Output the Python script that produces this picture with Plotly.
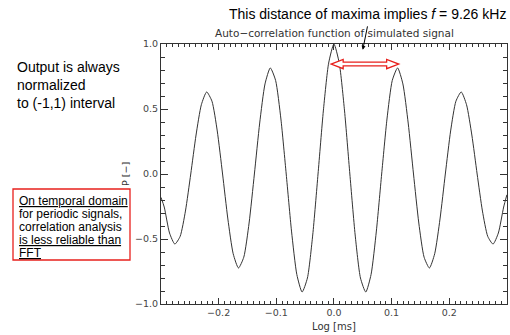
import plotly.graph_objects as go

# ---- data ----
lag_ms = [-0.3, -0.2944, -0.2852, -0.276, -0.2668, -0.2576, -0.2484, -0.2392, -0.23, -0.2208,
          -0.2116, -0.2024, -0.1932, -0.184, -0.1748, -0.1656, -0.1564, -0.1472, -0.138, -0.1288,
          -0.1196, -0.1104, -0.1012, -0.092, -0.0828, -0.0736, -0.0644, -0.0552, -0.046, -0.0368,
          -0.0276, -0.0184, -0.0092, 0.0, 0.0092, 0.0184, 0.0276, 0.0368, 0.046, 0.0552,
          0.0644, 0.0736, 0.0828, 0.092, 0.1012, 0.1104, 0.1196, 0.1288, 0.138, 0.1472,
          0.1564, 0.1656, 0.1748, 0.184, 0.1932, 0.2024, 0.2116, 0.2208, 0.23, 0.2392,
          0.2484, 0.2576, 0.2668, 0.276, 0.2852, 0.2944, 0.3]
acf = [-0.18, -0.254, -0.454, -0.539, -0.480, -0.285, 0.000, 0.300, 0.533, 0.631,
       0.560, 0.331, 0.000, -0.346, -0.613, -0.723, -0.640, -0.377, 0.000, 0.392,
       0.693, 0.816, 0.720, 0.423, 0.000, -0.439, -0.773, -0.908, -0.800, -0.469,
       0.000, 0.485, 0.853, 1.000, 0.853, 0.485, 0.000, -0.469, -0.800, -0.908,
       -0.773, -0.439, 0.000, 0.423, 0.720, 0.816, 0.693, 0.392, 0.000, -0.377,
       -0.640, -0.723, -0.613, -0.346, 0.000, 0.331, 0.560, 0.631, 0.533, 0.300,
       0.000, -0.285, -0.480, -0.539, -0.454, -0.254, -0.16]
x_ticks = [-0.2, -0.1, 0.0, 0.1, 0.2, 0.3]
x_ticklabels = ["\u22120.2", "\u22120.1", "0.0", "0.1", "0.2", "0.3"]
y_ticks = [-1.0, -0.5, 0.0, 0.5, 1.0]
y_ticklabels = ["\u22121.0", "\u22120.5", "0.0", "0.5", "1.0"]

W, H = 510, 335
L, R, T, B = 161, 3, 44, 31
pw, ph = W - L - R, H - T - B

def px(xp):
    return (xp - L) / pw

def py(yp):
    return (H - B - yp) / ph

axcol = "#333333"
tickfont = dict(family="DejaVu Sans", size=9.5, color="#444444")

fig = go.Figure()
fig.add_trace(go.Scatter(x=lag_ms, y=acf, mode="lines",
                         line=dict(color="#333333", width=1, shape="spline", smoothing=0.6),
                         hoverinfo="skip", showlegend=False))

fig.update_layout(
    width=W, height=H, margin=dict(l=L, r=R, t=T, b=B),
    paper_bgcolor="white", plot_bgcolor="white", showlegend=False,
    xaxis=dict(range=[-0.3, 0.3002], tickvals=x_ticks, ticktext=x_ticklabels,
               ticks="inside", ticklen=6, tickwidth=1, tickcolor=axcol,
               showline=True, linecolor=axcol, linewidth=1, mirror="ticks",
               showgrid=False, zeroline=False, tickfont=tickfont,
               minor=dict(dtick=0.01, tick0=0, ticks="inside", ticklen=3,
                          tickcolor=axcol, showgrid=False)),
    yaxis=dict(range=[-1.0, 1.0], tickvals=y_ticks, ticktext=y_ticklabels,
               ticks="inside", ticklen=7, tickwidth=1, tickcolor=axcol,
               showline=True, linecolor=axcol, linewidth=1, mirror="ticks",
               showgrid=False, zeroline=False, tickfont=tickfont,
               minor=dict(dtick=0.1, tick0=0, ticks="inside", ticklen=4,
                          tickcolor=axcol, showgrid=False)),
)

# chart title (IDL style) and axis titles
fig.add_annotation(text="Auto\u2212correlation function of simulated signal",
                   xref="paper", yref="paper", x=0.5, y=py(33), showarrow=False,
                   font=dict(family="DejaVu Sans", size=10.5, color="#333333"),
                   xanchor="center", yanchor="middle")
fig.add_annotation(text="Log [ms]", xref="paper", yref="paper", x=0.5, y=py(326),
                   showarrow=False, font=dict(family="DejaVu Sans", size=10, color="#333333"),
                   xanchor="center", yanchor="middle")
fig.add_annotation(text="P [\u2212]", xref="paper", yref="paper", x=px(125), y=0.5,
                   textangle=-90, showarrow=False,
                   font=dict(family="DejaVu Sans", size=9.5, color="#333333"),
                   xanchor="center", yanchor="middle")

# headline annotation with arrow
fig.add_annotation(text="This distance of maxima implies <i>f</i> = 9.26 kHz",
                   xref="paper", yref="paper", x=px(367), y=py(14), showarrow=False,
                   font=dict(family="Liberation Sans", size=14, color="black"),
                   xanchor="center", yanchor="middle")
fig.add_annotation(x=0.05, y=0.955, xref="x", yref="y", text="", showarrow=True,
                   ax=5, ay=-25, axref="pixel", ayref="pixel",
                   arrowhead=2, arrowsize=0.8, arrowwidth=1, arrowcolor="black")

# hollow red double arrow between the central and first side maxima
i0 = acf.index(max(acf))
i1 = i0 + 1 + acf[i0 + 1:].index(max(acf[i0 + 6:i0 + 20]))
xl, xr = lag_ms[i0] - 0.005, lag_ms[i1] + 0.002
yc = 0.846
hl, hh, hs = 0.021, 0.036, 0.014
path = (f"M {xl},{yc} L {xl+hl},{yc+hh} L {xl+hl},{yc+hs} L {xr-hl},{yc+hs} "
        f"L {xr-hl},{yc+hh} L {xr},{yc} L {xr-hl},{yc-hh} L {xr-hl},{yc-hs} "
        f"L {xl+hl},{yc-hs} L {xl+hl},{yc-hh} Z")
fig.add_shape(type="path", path=path, xref="x", yref="y",
              line=dict(color="#e8201c", width=1.3), fillcolor="white", layer="above")

# left note
fig.add_annotation(text="Output is always<br>normalized<br>to (-1,1) interval",
                   xref="paper", yref="paper", x=px(15), y=py(57), showarrow=False,
                   align="left", xanchor="left", yanchor="top",
                   font=dict(family="Liberation Sans", size=14, color="black"))

# red framed note
fig.add_shape(type="rect", xref="paper", yref="paper",
              x0=px(13), x1=px(130), y0=py(260), y1=py(189),
              line=dict(color="#e8201c", width=1.3), fillcolor="white")
box_lines = ["<u>On temporal domain</u>", "for periodic signals,", "correlation analysis",
             "<u>is less reliable than</u>", "<u>FFT</u>"]
for i, t in enumerate(box_lines):
    fig.add_annotation(text=t, xref="paper", yref="paper", x=px(17), y=py(201 + 13 * i),
                       showarrow=False, xanchor="left", yanchor="middle",
                       font=dict(family="Liberation Sans", size=12, color="black"))

fig.write_html("out.html", config={"displayModeBar": False},
               post_script="document.body.style.margin='0';")
